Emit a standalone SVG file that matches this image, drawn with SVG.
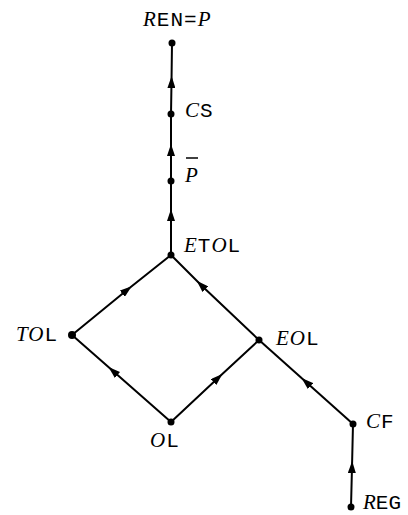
<svg xmlns="http://www.w3.org/2000/svg" width="408" height="515" viewBox="0 0 408 515">
<style>
.edge{fill:none;stroke:#000;stroke-width:2;marker-mid:url(#arr)}
.dot{fill:#000}
.lbl{font-family:"Liberation Mono","DejaVu Sans Mono",monospace;font-size:21px;fill:#000;letter-spacing:1px}
.s{font-family:"Liberation Serif",serif;font-style:italic;font-size:21px}
</style>
<defs>
<marker id="arr" viewBox="0 0 12 8" refX="6" refY="4" markerWidth="12" markerHeight="8" markerUnits="userSpaceOnUse" orient="auto">
<path d="M0,0 L12,4 L0,8 Z" fill="#000"/>
</marker>
</defs>
<rect width="408" height="515" fill="#fff"/>
<g id="connectors">
<path class="edge" d="M171,114 L171.5,82 L172,43"/>
<path class="edge" d="M171,181 L171,150 L171,114"/>
<path class="edge" d="M171,255 L171,215 L171,181"/>
<path class="edge" d="M72,335 L127,290 L171,255"/>
<path class="edge" d="M259,340 L201,285 L171,255"/>
<path class="edge" d="M171,422 L113,371 L72,335"/>
<path class="edge" d="M171,422 L218,378 L259,340"/>
<path class="edge" d="M353,424 L306,382 L259,340"/>
<path class="edge" d="M351,507 L352,467 L353,424"/>
</g>
<g id="REN">
<circle class="dot" cx="172" cy="43" r="3.5"/>
<text class="lbl" x="143" y="26"><tspan class="s">R</tspan>EN=<tspan class="s">P</tspan></text>
</g>
<g id="CS">
<circle class="dot" cx="171" cy="114" r="3.5"/>
<text class="lbl" x="185" y="117"><tspan class="s">C</tspan>S</text>
</g>
<g id="Pbar">
<circle class="dot" cx="171" cy="181" r="3.5"/>
<text class="lbl" x="185" y="182"><tspan class="s">P</tspan></text>
<line x1="186" y1="158" x2="198" y2="158" stroke="#000" stroke-width="1.5"/>
</g>
<g id="ETOL">
<circle class="dot" cx="171" cy="255" r="3.5"/>
<text class="lbl" x="184" y="252"><tspan class="s">E</tspan>T<tspan class="s">O</tspan>L</text>
</g>
<g id="TOL">
<circle class="dot" cx="72" cy="335" r="4"/>
<text class="lbl" x="58" y="341" text-anchor="end"><tspan class="s">T</tspan><tspan class="s">O</tspan>L</text>
</g>
<g id="EOL">
<circle class="dot" cx="259" cy="340" r="3.5"/>
<text class="lbl" x="276" y="345"><tspan class="s">E</tspan><tspan class="s">O</tspan>L</text>
</g>
<g id="OL">
<circle class="dot" cx="171" cy="422" r="3.5"/>
<text class="lbl" x="150" y="447"><tspan class="s">O</tspan>L</text>
</g>
<g id="CF">
<circle class="dot" cx="353" cy="424" r="3.5"/>
<text class="lbl" x="366" y="428"><tspan class="s">C</tspan>F</text>
</g>
<g id="REG">
<circle class="dot" cx="351" cy="507" r="3.5"/>
<text class="lbl" x="363" y="509" style="letter-spacing:0px"><tspan class="s">R</tspan>EG</text>
</g>
</svg>
